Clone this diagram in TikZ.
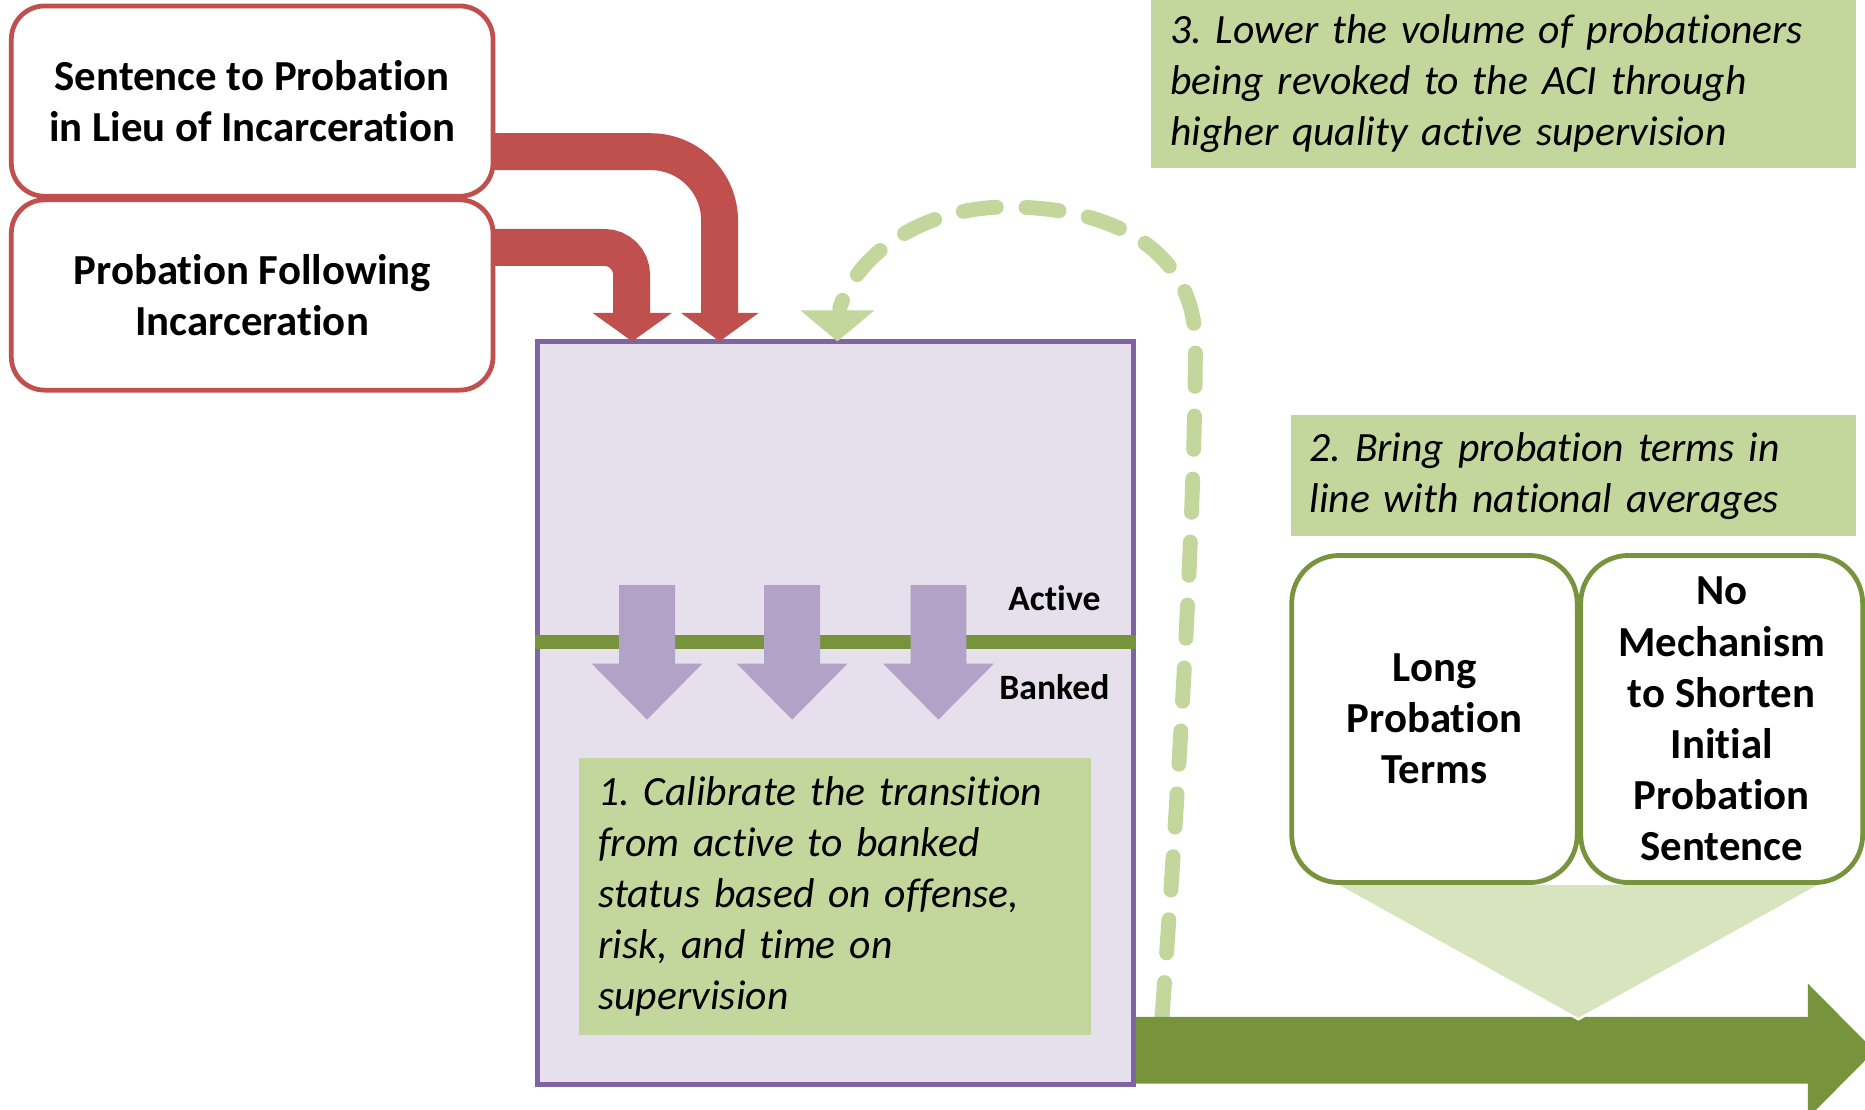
\documentclass[tikz,border=0pt]{standalone}
\usepackage{fontspec}
\setmainfont{Carlito}[Ligatures={NoCommon}]
\definecolor{cred}{HTML}{C0504D}
\definecolor{cpurple}{HTML}{8064A2}
\definecolor{cpurplefill}{HTML}{E5E0EC}
\definecolor{cpurplearrow}{HTML}{B3A2C7}
\definecolor{cgreen}{HTML}{77933C}
\definecolor{cgreenlight}{HTML}{C3D69B}
\definecolor{cgreenpale}{HTML}{D7E4BD}
\frenchspacing
\begin{document}
\frenchspacing
\begin{tikzpicture}[x=1pt,y=-1pt,
  smallbold/.style={font=\bfseries\fontsize{30}{43}\selectfont},
  boldtext/.style={font=\bfseries\fontsize{36}{43}\selectfont},
  itext/.style={font=\itshape\fontsize{35}{43}\selectfont},
  redbox/.style={draw=cred, line width=4pt, fill=white, rounded corners=28pt,
    minimum width=405pt, minimum height=160pt, align=center, inner sep=0pt, boldtext},
  gbox/.style={draw=cgreen, line width=4pt, fill=white, rounded corners=40pt,
    minimum height=275pt, align=center, inner sep=0pt, boldtext},
  gtext/.style={fill=cgreenlight, inner xsep=16pt, inner ysep=0pt, align=left, itext},
  redband/.style={draw=cred, line width=31pt},
  dashcurve/.style={draw=cgreenlight, line width=12.5pt, line cap=round,
    dash pattern=on 28pt off 25pt},
  downarr/.pic={\fill[cpurplearrow] (-23.5,0) -- (23.5,0) -- (23.5,66) -- (46.5,66)
    -- (0,113) -- (-46.5,66) -- (-23.5,66) -- cycle;}
]
\useasboundingbox (0,0) rectangle (1568,932.4);

% purple pool
\node[draw=cpurple, line width=4pt, fill=cpurplefill, minimum width=501pt,
  minimum height=625pt, inner sep=0pt] (pool) at (702.5,599.5) {};
\draw[cgreen, line width=12pt] (pool.west |- 0,540) -- (pool.east |- 0,540);
\pic at (544,492) {downarr};
\pic at (666,492) {downarr};
\pic at (789,492) {downarr};
\node[smallbold, anchor=base] (active) at (886.5,513) {Active};
\node[smallbold, anchor=base] (banked) at (886.5,588) {Banked};
\node[gtext, minimum width=430pt, minimum height=233pt, text width=398pt]
  (calib) at (702,753.5) {1. Calibrate the transition\\from active to banked\\status based on offense,\\risk, and time on\\supervision};

% red inflow arrows
\draw[redband, rounded corners=58pt] (414,127.5) -- (605,127.5) -- (605,264);
\fill[cred] (572.5,263) -- (638,263) -- (605,287) -- cycle;
\draw[redband, rounded corners=23pt] (414,208) -- (531,208) -- (531,264);
\fill[cred] (498,263) -- (565,263) -- (531.5,287) -- cycle;

% red source boxes
\node[redbox] (sent) at (212,85) {Sentence to Probation\\in Lieu of Incarceration};
\node[redbox] (follow) at (212,248) {Probation Following\\Incarceration};

% revocation loop
\draw[dashcurve] (977,854) .. controls (992,650) and (1005,420) .. (1005,290)
  .. controls (1005,210) and (935,174) .. (847,174)
  .. controls (780,174) and (722,210) .. (706,259);
\fill[cgreenlight] (673,261) -- (735,261) -- (704,287) -- cycle;

% outflow arrow
\fill[cgreen] (955,855) -- (1520,855) -- (1520,827) -- (1576,883.5) -- (1520,940)
  -- (1520,911) -- (955,911) -- cycle;

% callout triangle and term boxes
\filldraw[fill=cgreenpale, draw=white, line width=2pt, line join=miter]
  (1122,743) -- (1532,743) -- (1327,857) -- cycle;
\node[gbox, minimum width=240pt] (long) at (1206,604.5) {Long\\Probation\\Terms};
\node[gbox, minimum width=237pt] (nomech) at (1447.5,604.5) {No\\Mechanism\\to Shorten\\Initial\\Probation\\Sentence};

% goal boxes
\node[gtext, minimum width=475pt, minimum height=102pt, text width=443pt]
  (goal2) at (1322.5,400) {2. Bring probation terms in\\line with national averages};
\node[gtext, minimum width=592pt, minimum height=141pt, text width=560pt]
  (goal3) at (1264,70.5) {3. Lower the volume of probationers\\being revoked to the ACI through\\higher quality active supervision};
\end{tikzpicture}
\end{document}
